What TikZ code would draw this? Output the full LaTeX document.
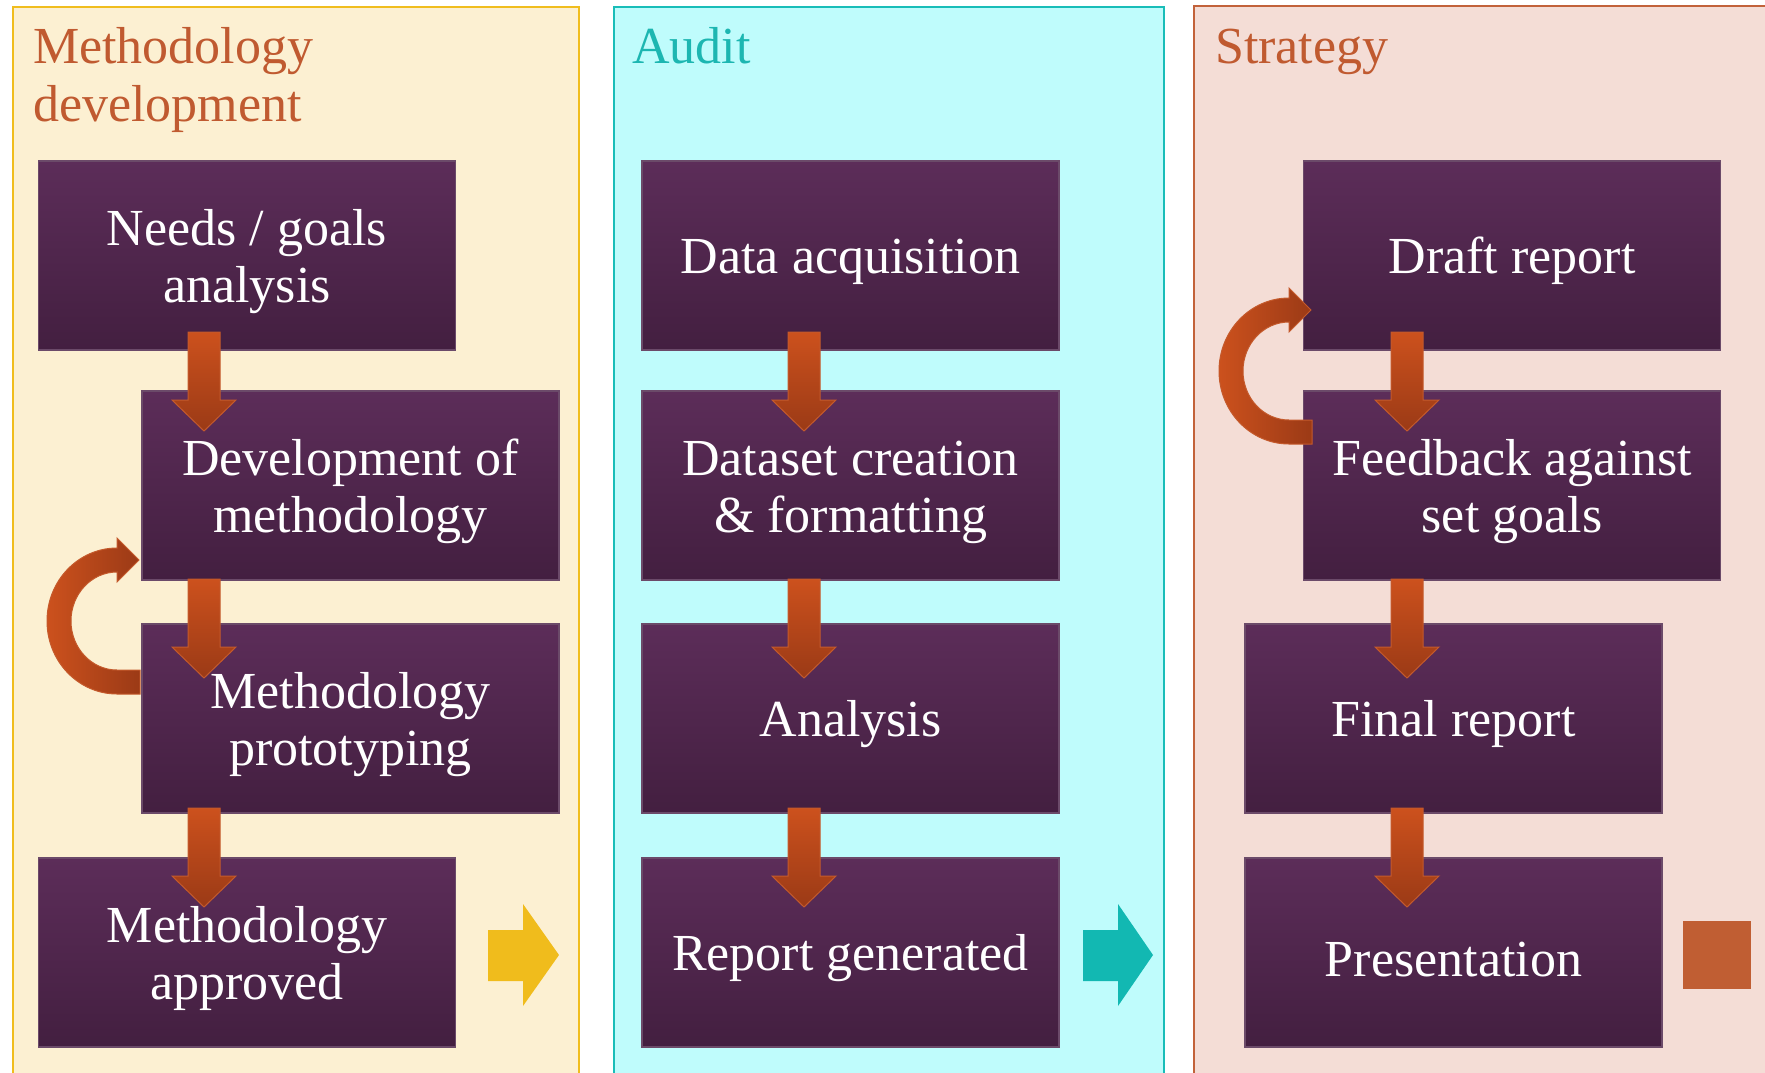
\documentclass[tikz,border=0pt]{standalone}
\usepackage{fontspec}
\setmainfont{Liberation Serif}
\usetikzlibrary{calc}
\definecolor{pOneFill}{HTML}{FCF0D2}
\definecolor{pOneEdge}{HTML}{F0BD1E}
\definecolor{pTwoFill}{HTML}{BFFCFC}
\definecolor{pTwoEdge}{HTML}{19BDB8}
\definecolor{pThreeFill}{HTML}{F4DDD6}
\definecolor{pThreeEdge}{HTML}{C2623A}
\definecolor{headOrange}{HTML}{C05A30}
\definecolor{headTeal}{HTML}{1CB6B1}
\definecolor{boxtop}{HTML}{5C2D59}
\definecolor{boxbot}{HTML}{431F40}
\definecolor{boxedge}{HTML}{6B4A69}
\definecolor{arrowtop}{HTML}{CC511D}
\definecolor{arrowbot}{HTML}{9B3A16}
\definecolor{arrowedge}{HTML}{C45A2C}
\definecolor{yellowArrow}{HTML}{F0BC1C}
\definecolor{tealArrow}{HTML}{12B8B2}
\definecolor{squareOrange}{HTML}{C05E33}
\newcommand\tp{\rule{0pt}{48pt}}
\newcommand\blockdown[2]{%
  \path[downarrow] let \p1=(#1), \p2=(#2) in
    (\x1-16pt,\y1) -- (\x1+16pt,\y1) -- (\x1+16pt,\y2+31pt) -- (\x1+32pt,\y2+31pt)
    -- (\x1,\y2) -- (\x1-32pt,\y2+31pt) -- (\x1-16pt,\y2+31pt) -- cycle;}
\newcommand\loopback[1]{%
  \path[looparrow, shift={#1}] (140,694) -- (117,694)
    arc[start angle=90, end angle=270, x radius=70, y radius=73]
    -- (117,538) -- (139,560) -- (117,582) -- (117,572)
    arc[start angle=270, end angle=90, x radius=46, y radius=49]
    -- (140,670) -- cycle;}
\begin{document}
\begin{tikzpicture}[x=1pt,y=-1pt,
  panel/.style={line width=2pt},
  procbox/.style={draw=boxedge, line width=1.2pt, top color=boxtop, bottom color=boxbot,
    minimum width=417pt, minimum height=189pt, inner sep=0pt, text=white,
    align=center, font=\fontsize{52}{57}\selectfont},
  heading/.style={anchor=base west, inner sep=0pt, align=left,
    font=\fontsize{52}{58}\selectfont},
  downarrow/.style={draw=arrowedge, line width=1pt, top color=arrowtop, bottom color=arrowbot},
  looparrow/.style={draw=arrowedge, line width=1pt, left color=arrowtop, right color=arrowbot}]
\useasboundingbox (0,0) rectangle (1765,1072);
% panels
\draw[panel, draw=pOneEdge, fill=pOneFill] (13,7) rectangle (579,1085);
\draw[panel, draw=pTwoEdge, fill=pTwoFill] (614,7) rectangle (1164,1085);
\draw[panel, draw=pThreeEdge, fill=pThreeFill] (1194,6) rectangle (1780,1085);
% headings
\node[heading, text=headOrange] (h1) at (33,121) {Methodology\\development};
\node[heading, text=headTeal] (h2) at (632,63) {Audit};
\node[heading, text=headOrange] (h3) at (1215,63) {Strategy};
% column 1
\node[procbox] (needs) at (247,255.5) {\tp Needs / goals\\analysis};
\node[procbox] (devm) at (350.5,485.5) {\tp Development of\\methodology};
\node[procbox] (proto) at (350.5,718.5) {\tp Methodology\\prototyping};
\node[procbox] (appr) at (247,952.5) {\tp Methodology\\approved};
% column 2
\node[procbox] (acq) at (850.5,255.5) {\tp Data acquisition};
\node[procbox] (dset) at (850.5,485.5) {\tp Dataset creation\\\& formatting};
\node[procbox] (anal) at (850.5,718.5) {\tp Analysis};
\node[procbox] (repg) at (850.5,952.5) {\tp Report generated};
% column 3
\node[procbox] (draft) at (1512,255.5) {\tp Draft report};
\node[procbox] (feed) at (1512,485.5) {\tp Feedback against\\set goals};
\node[procbox] (final) at (1453.5,718.5) {\tp Final report};
\node[procbox] (pres) at (1453.5,952.5) {\tp Presentation};
% arrow end points
\foreach \c/\xx in {a/204,b/804,c/1407}{
  \coordinate (\c1s) at (\xx,332); \coordinate (\c1e) at (\xx,431);
  \coordinate (\c2s) at (\xx,579); \coordinate (\c2e) at (\xx,678);
  \coordinate (\c3s) at (\xx,808); \coordinate (\c3e) at (\xx,907);
}
\foreach \c in {a,b,c}{
  \blockdown{\c1s}{\c1e}
  \blockdown{\c2s}{\c2e}
  \blockdown{\c3s}{\c3e}
}
% loop arrows
\loopback{(0,0)}
\loopback{(1172,-250)}
% next arrows
\fill[yellowArrow] (488,930) -- (523,930) -- (523,904) -- (559,955) -- (523,1006) -- (523,981) -- (488,981) -- cycle;
\fill[tealArrow] (1083,930) -- (1118,930) -- (1118,904) -- (1153,955) -- (1118,1006) -- (1118,981) -- (1083,981) -- cycle;
\fill[squareOrange] (1683,921) rectangle (1751,989);
\end{tikzpicture}
\end{document}
